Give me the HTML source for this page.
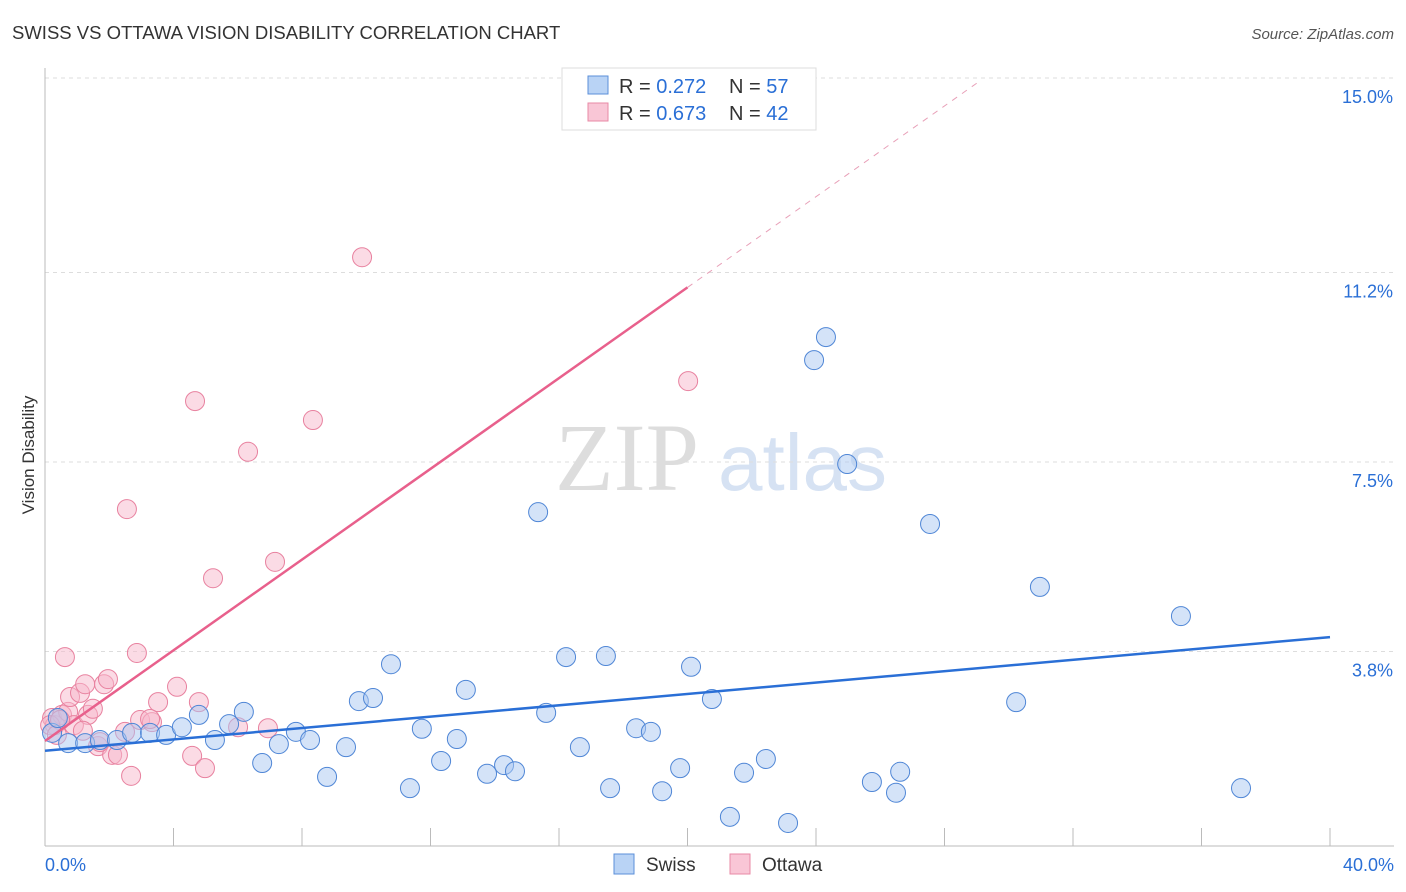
<!DOCTYPE html>
<html><head><meta charset="utf-8"><style>
body{margin:0;background:#fff;font-family:"Liberation Sans",sans-serif}
</style></head><body>
<svg id="c" width="1406" height="892" style="display:block">
<text x="12" y="39" font-size="18.5" fill="#333">SWISS VS OTTAWA VISION DISABILITY CORRELATION CHART</text>
<text x="1394" y="39" font-size="15" fill="#555" font-style="italic" text-anchor="end">Source: ZipAtlas.com</text>
<text x="34" y="455" font-size="17" fill="#333" text-anchor="middle" transform="rotate(-90 34 455)">Vision Disability</text>
<text x="555" y="490" font-size="96" fill="#ddd" font-family="Liberation Serif,serif">ZIP</text>
<text x="718" y="490" font-size="80" fill="#d6e2f3">atlas</text>
<g id="grid"></g><g id="marks"></g>
<g>
<rect x="562" y="68" width="254" height="62" fill="#fff" stroke="#ddd"/>
<rect x="588" y="76" width="20" height="18" fill="#b9d3f5" stroke="#5b8fd9"/>
<rect x="588" y="103" width="20" height="18" fill="#f9c6d6" stroke="#e88aa6"/>
<text x="619" y="93" font-size="20" fill="#333">R = <tspan fill="#2a6fd6">0.272</tspan></text>
<text x="729" y="93" font-size="20" fill="#333">N = <tspan fill="#2a6fd6">57</tspan></text>
<text x="619" y="120" font-size="20" fill="#333">R = <tspan fill="#2a6fd6">0.673</tspan></text>
<text x="729" y="120" font-size="20" fill="#333">N = <tspan fill="#2a6fd6">42</tspan></text>
</g>
<g>
<rect x="614" y="854" width="20" height="20" fill="#b9d3f5" stroke="#5b8fd9"/>
<text x="646" y="871" font-size="19" fill="#333">Swiss</text>
<rect x="730" y="854" width="20" height="20" fill="#f9c6d6" stroke="#e88aa6"/>
<text x="762" y="871" font-size="19" fill="#333">Ottawa</text>
</g>
</svg>
<script>
const yTicks=[3.8,7.5,11.2,15.0];
const yTickLabels=["3.8%","7.5%","11.2%","15.0%"];
const xTicks=[0,4,8,12,16,20,24,28,32,36,40];
const swissX=[0.22,0.40,0.72,1.25,1.71,2.24,2.71,3.27,3.77,4.26,4.79,5.29,5.73,6.19,6.76,7.28,7.81,8.25,8.78,9.37,9.77,10.21,10.77,11.36,11.73,12.33,12.82,13.10,13.76,14.29,14.63,15.35,15.60,16.22,16.65,17.46,17.59,18.40,18.86,19.21,19.77,20.11,20.76,21.32,21.76,22.44,23.13,23.94,24.31,24.97,25.74,26.49,26.62,27.55,30.23,30.97,35.36,37.23];
const swissY=[2.21,2.50,2.01,2.01,2.07,2.07,2.21,2.21,2.17,2.32,2.56,2.07,2.38,2.62,1.62,1.99,2.23,2.07,1.35,1.93,2.83,2.89,3.55,1.13,2.29,1.66,2.09,3.05,1.41,1.58,1.46,6.52,2.60,3.69,1.93,3.71,1.13,2.30,2.23,1.07,1.52,3.50,2.87,0.57,1.43,1.70,0.45,9.49,9.94,7.46,1.25,1.04,1.45,6.29,2.81,5.06,4.49,1.13];
const ottX=[0.22,0.31,0.53,0.62,0.72,0.78,0.90,1.09,1.25,1.34,1.49,1.65,1.84,1.96,2.09,2.27,2.49,2.55,2.68,2.86,2.96,3.33,3.52,4.11,4.58,4.67,4.79,4.98,5.23,6.01,6.32,6.94,7.16,8.34,9.87,20.02,0.16,0.47,1.71,1.18,3.27,0.37];
const ottY=[2.50,2.36,2.56,3.69,2.62,2.91,2.36,2.99,3.16,2.56,2.68,1.95,3.16,3.26,1.78,1.78,2.23,6.58,1.37,3.77,2.46,2.42,2.81,3.11,1.76,8.69,2.81,1.52,5.23,2.32,7.70,2.30,5.55,8.32,11.50,9.08,2.36,2.46,2.03,2.25,2.48,2.17];
const swissLine=[1.86,0.0555];
const ottLine=[2.05,0.443];
const NS="http://www.w3.org/2000/svg";
const X=v=>45+v/40*1285, Y=v=>846-v/3.75*192;
function mk(p,t,a){const e=document.createElementNS(NS,t);for(const k in a)e.setAttribute(k,a[k]);p.appendChild(e);return e;}
const g=document.getElementById('grid'),m=document.getElementById('marks');
yTicks.forEach((t,i)=>{
 const l=mk(g,'line',{x1:45,x2:1394,y1:Y(t),y2:Y(t),stroke:'#ddd','stroke-dasharray':'4,4'});
 
 
 const tx=mk(g,'text',{x:1393,y:Y(t)+25,'font-size':18,fill:'#2a6fd6','text-anchor':'end'});
 tx.textContent=yTickLabels[i];
 
 
});
mk(g,'line',{x1:45,x2:45,y1:68,y2:846,stroke:'#bbb'});
mk(g,'line',{x1:45,x2:1394,y1:846,y2:846,stroke:'#bbb'});
xTicks.forEach(t=>{const l=mk(g,'line',{x1:X(t),x2:X(t),y1:828,y2:846,stroke:'#bbb'});
 
 });
[[0,'0.0%','start',45],[40,'40.0%','end',1394]].forEach(a=>{const t=mk(g,'text',{x:a[3],y:871,'font-size':18,fill:'#2a6fd6','text-anchor':a[2]});t.textContent=a[1];
 
 });
function pts(xs,ys,fill,stroke,name){xs.forEach((x,i)=>{const c=mk(m,'circle',{cx:X(x),cy:Y(ys[i]),r:9.5,fill:fill,'fill-opacity':0.5,stroke:stroke,'stroke-width':1});
 
 });}
pts(ottX,ottY,'#f7b8cb','#e8819f','ottawa-point');
pts(swissX,swissY,'#a9c8f2','#4f86d6','swiss-point');
const sl=mk(m,'line',{x1:X(0),y1:Y(swissLine[0]),x2:X(40),y2:Y(swissLine[0]+40*swissLine[1]),stroke:'#2a6fd6','stroke-width':2.5});


const ol=mk(m,'line',{x1:X(0),y1:Y(ottLine[0]),x2:X(20),y2:Y(ottLine[0]+20*ottLine[1]),stroke:'#e8608c','stroke-width':2.5});


const od=mk(m,'line',{x1:X(20),y1:Y(ottLine[0]+20*ottLine[1]),x2:X(29.1),y2:Y(ottLine[0]+29.1*ottLine[1]),stroke:'#e8a0b8','stroke-width':1,'stroke-dasharray':'6,6'});


</script>
</body></html>
